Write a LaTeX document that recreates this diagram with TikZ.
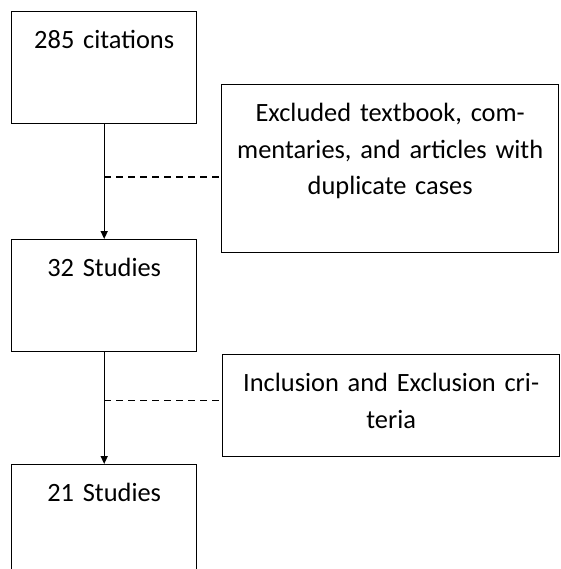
\documentclass[tikz,border=0pt]{standalone}
\usepackage{fontspec}
\setmainfont{Carlito}
\usetikzlibrary{arrows.meta,calc}

\newcommand{\stagefont}{\fontsize{26.4}{36.5}\selectfont}

\tikzset{
  stage/.style={draw, line width=1.4pt, anchor=north west, inner xsep=4pt, inner ysep=17pt,
    text height=20pt, align=center, font=\stagefont},
  narrow/.style={stage, text width=177pt},
  wide/.style={stage, text width=329pt},
  flow/.style={line width=1.4pt, -{Triangle[length=8pt,width=7pt]}},
  side/.style={line width=1.4pt, dashed, dash pattern=on 7pt off 5pt}
}

\begin{document}
\begin{tikzpicture}[x=1pt, y=-1pt]
  \useasboundingbox (0,0) rectangle (560,569);

  % Draw the main stages on the left
  \node[narrow, text depth=58pt] (cit) at (11,11) {285 citations};
  \node[narrow, text depth=58pt] (s32) at (11,239) {32 Studies};
  \node[narrow, text depth=58pt] (s21) at (11,464) {21 Studies};

  % Draw the exclusion boxes on the right
  \node[wide, text depth=114pt] (excl) at (221,84) {Excluded textbook, com-\\mentaries, and articles with\\duplicate cases};
  \node[wide, text depth=48pt] (crit) at (222,354) {Inclusion and Exclusion cri-\\teria};

  % Draw the arrows between stages
  \draw[flow] (cit.south) -- (s32.north);
  \draw[flow] (s32.south) -- (s21.north);

  % Dashed links to the exclusions
  \coordinate (j1) at ($(cit.south)!0.46!(s32.north)$);
  \coordinate (j2) at ($(s32.south)!0.43!(s21.north)$);
  \draw[side] (j1) -- (j1 -| excl.west);
  \draw[side] (j2) -- (j2 -| crit.west);
\end{tikzpicture}
\end{document}
